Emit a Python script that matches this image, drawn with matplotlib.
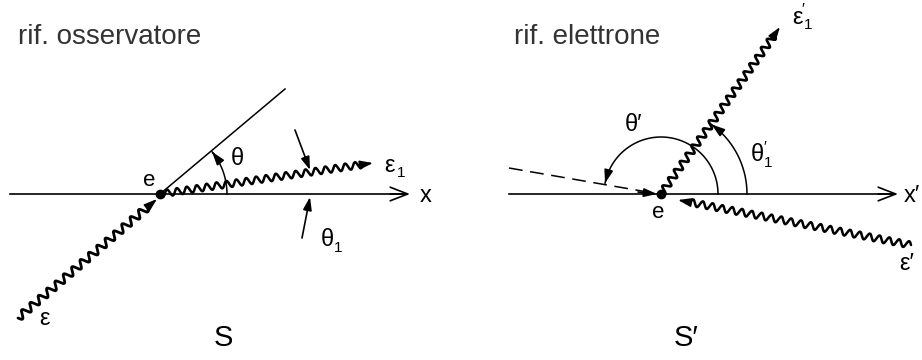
import numpy as np
import matplotlib.pyplot as plt

plt.rcParams['font.family'] = ['Liberation Sans', 'DejaVu Sans']

# geometry in pixel coordinates (y grows downward)
e_obs = (160, 194)
e_el = (661, 194)

axis_obs = [(10, 194), (410, 194)]
axis_el = [(509, 194), (898, 194)]

theta_line = [e_obs, (285, 89)]
photon_in_obs = [(18, 318), (157, 199)]
photon_out_obs = [e_obs, (373, 163)]
photon_out_el = [e_el, (780, 27)]
photon_in_el = [(911, 245), (678, 200)]
dashed_el = [(509, 168), (659, 194)]

theta1_arrows = [[(295, 130), (310, 170)], [(302, 238), (310, 197)]]

# arcs: centre, radius, start angle, end angle (degrees)
arcs = [(e_obs, 67, 0, 39), (e_el, 57, 0, 169), (e_el, 86, 0, 54)]

W, H = 922, 360
fig = plt.figure(figsize=(W / 100, H / 100), dpi=100)
ax = fig.add_axes([0, 0, 1, 1])
ax.set_xlim(0, W)
ax.set_ylim(H, 0)
ax.axis('off')

head = dict(arrowstyle='-|>,head_length=0.6,head_width=0.2', mutation_scale=13,
            color='k', lw=1.2, shrinkA=0, shrinkB=0)
open_head = dict(arrowstyle='->,head_length=0.9,head_width=0.35', mutation_scale=14,
                 color='k', lw=1.2, shrinkA=0, shrinkB=0)


def wavy(p0, p1, wl=10, amp=3.4, lw=1.8, tail=8):
    p0 = np.array(p0, float)
    p1 = np.array(p1, float)
    d = p1 - p0
    L = np.hypot(*d)
    u = d / L
    n = np.array([-u[1], u[0]])
    end = np.floor((L - tail) / (wl / 2)) * (wl / 2)
    s = np.linspace(0, end, int(end * 4))
    pts = p0 + np.outer(s, u) + np.outer(amp * np.sin(2 * np.pi * s / wl), n)
    ax.plot(pts[:, 0], pts[:, 1], color='k', lw=lw, solid_capstyle='round')
    ax.annotate('', xy=p1, xytext=pts[-1], arrowprops=head)


def arc(c, r, a0, a1):
    a = np.radians(np.linspace(a0, a1, 200))
    x = c[0] + r * np.cos(a)
    y = c[1] - r * np.sin(a)
    ax.plot(x, y, color='k', lw=1.1)
    ax.annotate('', xy=(x[-1], y[-1]), xytext=(x[-12], y[-12]), arrowprops=head)


# axes
for (x0, y0), (x1, y1) in [axis_obs, axis_el]:
    ax.plot([x0, x1 - 4], [y0, y1], color='k', lw=1.2)
    ax.annotate('', xy=(x1, y1), xytext=(x1 - 20, y1), arrowprops=open_head)

# observer frame
(x0, y0), (x1, y1) = theta_line
ax.plot([x0, x1], [y0, y1], color='k', lw=1.1)
wavy(*photon_in_obs, wl=11, amp=3.8, lw=2.0)
wavy(*photon_out_obs)
for p0, p1 in theta1_arrows:
    ax.annotate('', xy=p1, xytext=p0, arrowprops=head)
ax.plot(*e_obs, 'o', ms=6, color='k')

# electron frame
(x0, y0), (x1, y1) = dashed_el
ax.plot([x0, x1], [y0, y1], color='k', lw=1.1, ls=(0, (9, 5)))
ax.annotate('', xy=(657, 194), xytext=(638, 192), arrowprops=head)
wavy(*photon_out_el, wl=10, amp=3.6, lw=1.9)
wavy(*photon_in_el)
ax.plot(*e_el, 'o', ms=6, color='k')

for c, r, a0, a1 in arcs:
    arc(c, r, a0, a1)

# text
ax.text(18, 44, 'rif. osservatore', fontsize=20, color='#333333', va='baseline')
ax.text(514, 44, 'rif. elettrone', fontsize=20, color='#333333', va='baseline')
ax.text(223, 338, 'S', fontsize=21, ha='center', va='center')
ax.text(674, 338, 'S′', fontsize=21, ha='left', va='center')

g = 17
s = 11
ax.text(149, 181, 'e', fontsize=16, ha='center', va='center')
ax.text(426, 196, 'x', fontsize=17, ha='center', va='center')
ax.text(44, 319, 'ε', fontsize=g, ha='center', va='center')
ax.text(389, 166, 'ε', fontsize=g, ha='center', va='center')
ax.text(401, 173, '1', fontsize=s, ha='center', va='center')
ax.text(237, 159, 'θ', fontsize=g, ha='center', va='center')
ax.text(327, 240, 'θ', fontsize=g, ha='center', va='center')
ax.text(338, 248, '1', fontsize=s, ha='center', va='center')

ax.text(658, 212, 'e', fontsize=16, ha='center', va='center')
ax.text(912, 196, 'x′', fontsize=17, ha='center', va='center')
ax.text(797, 18, 'ε', fontsize=g, ha='center', va='center')
ax.text(803, 9, '′', fontsize=s, ha='center', va='center')
ax.text(808, 25, '1', fontsize=s, ha='center', va='center')
ax.text(907, 264, 'ε′', fontsize=g, ha='center', va='center')
ax.text(633, 125, 'θ′', fontsize=g, ha='center', va='center')
ax.text(757, 155, 'θ', fontsize=g, ha='center', va='center')
ax.text(765, 147, '′', fontsize=s, ha='center', va='center')
ax.text(768, 163, '1', fontsize=s, ha='center', va='center')

fig.savefig('out.png', dpi=100)
